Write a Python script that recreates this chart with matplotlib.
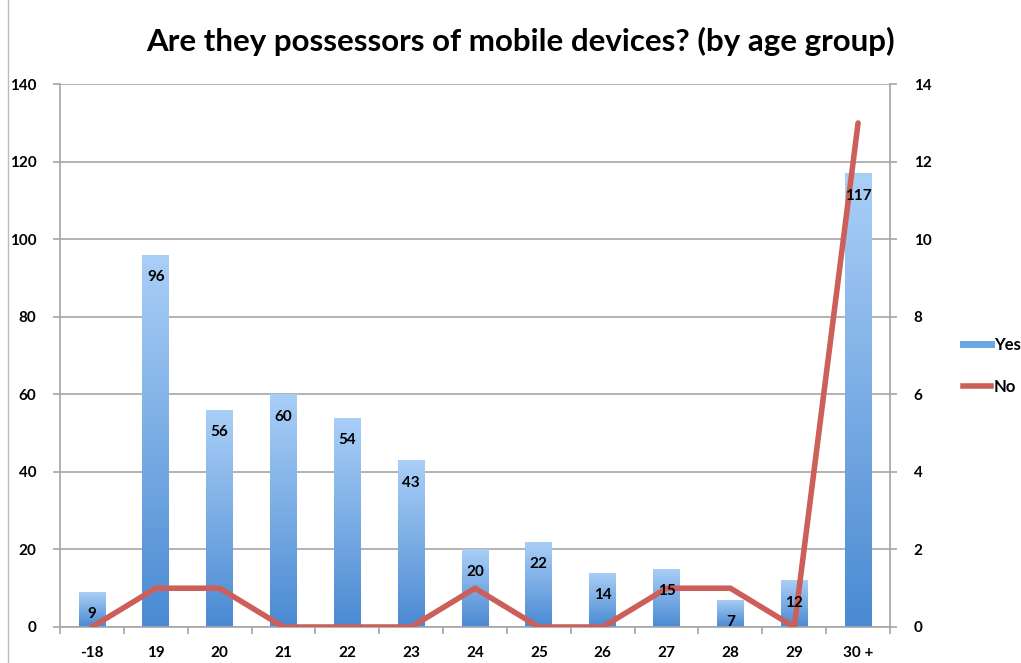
import numpy as np
import matplotlib.pyplot as plt
from matplotlib.lines import Line2D
from matplotlib.colors import LinearSegmentedColormap

plt.rcParams['font.family'] = ['Lato', 'DejaVu Sans']
plt.rcParams['font.weight'] = 'bold'

ages = ['-18', '19', '20', '21', '22', '23', '24', '25', '26', '27', '28', '29', '30 +']
yes_counts = [9, 96, 56, 60, 54, 43, 20, 22, 14, 15, 7, 12, 117]
no_counts = [0, 1, 1, 0, 0, 0, 1, 0, 0, 1, 1, 0, 13]

fig = plt.figure(figsize=(10.21, 6.63), dpi=100)
ax = fig.add_axes([0.0588, 0.0543, 0.8129, 0.8187])
ax2 = ax.twinx()

x = np.arange(len(ages))
grid_col = '#a6a6a6'

# bars with vertical gradient
bars = ax.bar(x, yes_counts, width=0.42, facecolor='none', edgecolor='none', zorder=2)
cmap = LinearSegmentedColormap.from_list('bluegrad', ['#4a8ad2', '#aacff7'])
grad = np.linspace(0, 1, 256).reshape(-1, 1)
for b in bars:
    bx, by = b.get_x(), b.get_y()
    w, h = b.get_width(), b.get_height()
    im = ax.imshow(grad, cmap=cmap, origin='lower', aspect='auto',
                   extent=[bx, bx + w, by, by + h], zorder=2)
    im.set_clip_path(b)

ax.set_xlim(-0.5, len(ages) - 0.5)
ax.set_ylim(0, 140)
ax.set_yticks(range(0, 141, 20))
ax.yaxis.grid(True, color=grid_col, linewidth=1.2, zorder=0)
ax.set_axisbelow(True)

ax.set_xticks(x)
ax.set_xticklabels(ages, fontsize=11, fontweight='bold')
ax.set_xticks(np.arange(-0.5, len(ages), 1), minor=True)
ax.tick_params(axis='x', which='major', length=0, pad=14)
ax.tick_params(axis='x', which='minor', length=5, color=grid_col, width=1.2)
ax.tick_params(axis='y', length=5, color=grid_col, width=1.2, labelsize=11, pad=12)

ax2.plot(x, no_counts, color='#cc5f59', linewidth=4, solid_joinstyle='round',
         solid_capstyle='round', zorder=4)
ax2.set_ylim(0, 14)
ax2.set_yticks(range(0, 15, 2))
ax2.tick_params(axis='y', length=5, color=grid_col, width=1.2, labelsize=11, pad=12)

# value labels above the line
for xi, v in zip(x, yes_counts):
    ax2.annotate(str(v), (xi, v), xycoords=ax.transData, xytext=(0, -16),
                 textcoords='offset points', ha='center', va='center',
                 fontsize=11, fontweight='bold', zorder=6)

for a in (ax, ax2):
    for s in ('top', 'right', 'left', 'bottom'):
        a.spines[s].set_visible(False)
    for lbl in a.get_yticklabels():
        lbl.set_fontweight('bold')
ax.spines['left'].set_visible(True)
ax.spines['left'].set_color(grid_col)
ax.spines['left'].set_linewidth(1.2)
ax.spines['bottom'].set_visible(True)
ax.spines['bottom'].set_color(grid_col)
ax.spines['bottom'].set_linewidth(1.2)
ax2.spines['right'].set_visible(True)
ax2.spines['right'].set_color(grid_col)
ax2.spines['right'].set_linewidth(1.2)

handles = [Line2D([0], [0], color='#6aa5e6', linewidth=5),
           Line2D([0], [0], color='#cc5f59', linewidth=4)]
fig.legend(handles, ['Yes', 'No'], loc='center left', bbox_to_anchor=(0.943, 0.448),
           frameon=False, handlelength=1.7, handletextpad=0.15, borderpad=0,
           borderaxespad=0, labelspacing=1.6, prop={'weight': 'bold', 'size': 12})

fig.text(0.51, 0.937, 'Are they possessors of mobile devices? (by age group)',
         ha='center', va='center', fontsize=22.5, fontweight='bold')

fig.add_artist(Line2D([0.008, 0.008], [0, 1], color='#bbbbbb', linewidth=1,
                      transform=fig.transFigure))

fig.savefig('out.png', dpi=100)
